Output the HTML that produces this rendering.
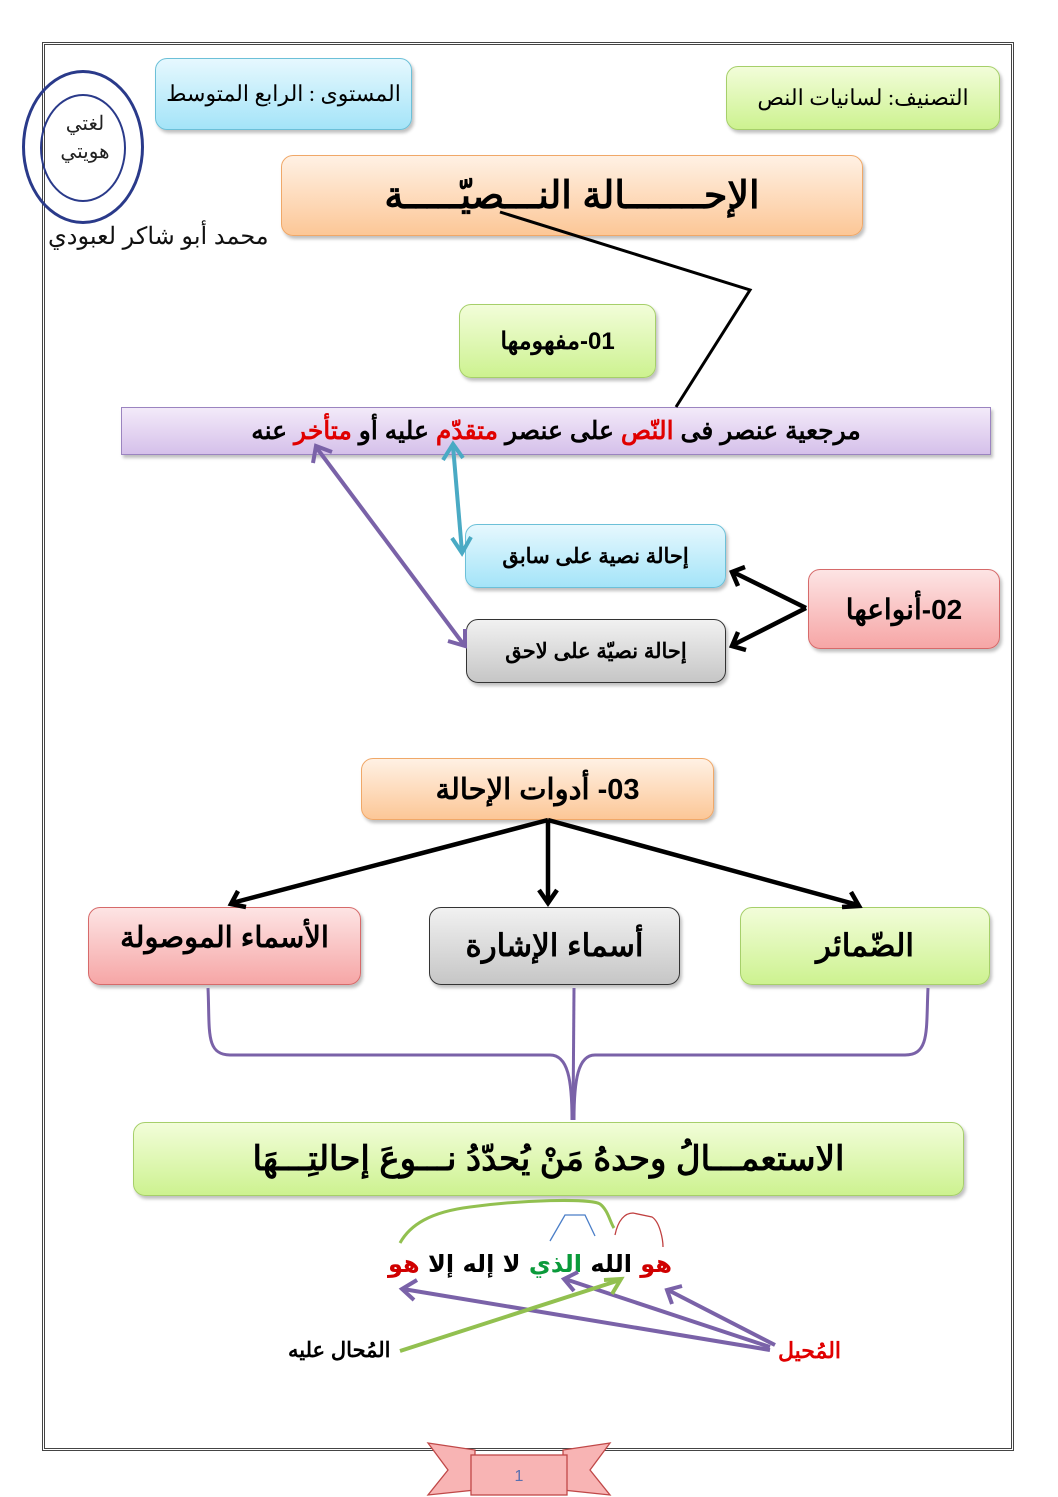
<!DOCTYPE html>
<html><head><meta charset="utf-8">
<style>
body{margin:0;width:1058px;height:1497px;background:#fff;position:relative;overflow:hidden;font-family:"Liberation Sans","Noto Sans CJK SC",sans-serif;}
.b{position:absolute;box-sizing:border-box;border-radius:12px;display:flex;align-items:center;justify-content:center;font-weight:bold;color:#000;direction:rtl;box-shadow:2px 3px 3px rgba(0,0,0,0.25);white-space:nowrap}
.green{background:linear-gradient(#f2fdd9,#cdf290);border:1.5px solid #a6cf6a}
.blue{background:linear-gradient(#e6f8fe,#a4e4f8);border:1.5px solid #6cc0d8}
.orange{background:linear-gradient(#fff1e4,#fcc797);border:1.5px solid #f0a868}
.red{background:linear-gradient(#fde4e4,#f6a6a6);border:1.5px solid #d66a6a}
.gray{background:linear-gradient(#f1f1f1,#c6c6c6);border:1.5px solid #333}
.purple{background:linear-gradient(#f3eaf9,#d5c0ea);border:1.5px solid #9b84c0;border-radius:0}
.t{position:absolute;font-weight:bold;direction:rtl;white-space:nowrap}
.r{color:#e00000}
</style></head><body>
<div style="position:absolute;left:42px;top:42px;width:972px;height:1409px;border:3px double #444;box-sizing:border-box"></div>

<div class="b blue" style="left:155px;top:58px;width:257px;height:72px;font-size:22px;font-weight:normal;font-family:'Liberation Serif',serif">المستوى : الرابع المتوسط</div>
<div class="b green" style="left:726px;top:66px;width:274px;height:64px;font-size:22px;font-weight:normal;font-family:'Liberation Serif',serif">التصنيف: لسانيات النص</div>
<div class="b orange" style="left:281px;top:155px;width:582px;height:81px;font-size:38px;font-weight:bold">الإحـــــــالة النـــصيّـــــة</div>

<!-- stamp -->
<div style="position:absolute;left:22px;top:70px;width:122px;height:154px;border:3px solid #2a3a8a;border-radius:50%;box-sizing:border-box"></div>
<div style="position:absolute;left:40px;top:94px;width:86px;height:108px;border:2px solid #2a3a8a;border-radius:50%;box-sizing:border-box"></div>
<div class="t" style="left:50px;top:110px;font-size:20px;color:#222;line-height:28px;text-align:center;width:70px;font-weight:normal">لغتي<br>هويتي</div>
<div class="t" style="left:48px;top:222px;font-size:24px;color:#111;font-weight:normal">محمد أبو شاكر لعبودي</div>

<div class="b green" style="left:459px;top:304px;width:197px;height:74px;font-size:24px">01-مفهومها</div>
<div class="b purple" style="left:121px;top:407px;width:870px;height:48px;font-size:25px">مرجعية عنصر فى&nbsp;<span class="r">النّص</span>&nbsp;على عنصر&nbsp;<span class="r">متقدّم</span>&nbsp;عليه أو&nbsp;<span class="r">متأخر</span>&nbsp;عنه</div>

<div class="b blue" style="left:465px;top:524px;width:261px;height:64px;font-size:21px">إحالة نصية على سابق</div>
<div class="b gray" style="left:466px;top:619px;width:260px;height:64px;font-size:21px">إحالة نصيّة على لاحق</div>
<div class="b red" style="left:808px;top:569px;width:192px;height:80px;font-size:28px">02-أنواعها</div>

<div class="b orange" style="left:361px;top:758px;width:353px;height:62px;font-size:29px">03- أدوات الإحالة</div>
<div class="b red" style="left:88px;top:907px;width:273px;height:78px;font-size:29px;align-items:flex-start;padding-top:12px">الأسماء الموصولة</div>
<div class="b gray" style="left:429px;top:907px;width:251px;height:78px;font-size:31px">أسماء الإشارة</div>
<div class="b green" style="left:740px;top:907px;width:250px;height:78px;font-size:31px">الضّمائر</div>
<div class="b green" style="left:133px;top:1122px;width:831px;height:74px;font-size:34px">الاستعمـــالُ وحدهُ مَنْ يُحدّدُ نـــوعَ إحالتِـــهَا</div>

<div class="t" style="left:388px;top:1250px;font-size:24px;font-family:'DejaVu Sans',serif"><span style="color:#d00000">هو</span> الله <span style="color:#0a9a3a">الذي</span> لا إله إلا <span style="color:#d00000">هو</span></div>
<div class="t" style="left:288px;top:1338px;font-size:21px">المُحال عليه</div>
<div class="t" style="left:778px;top:1338px;font-size:22px;color:#e00000">المُحيل</div>

<svg width="1058" height="1497" style="position:absolute;left:0;top:0">
<polyline points="500,212 750,290 676,407" fill="none" stroke="#000" stroke-width="3"/>
<g stroke="#4aaac4" stroke-width="4" fill="none">
<line x1="453" y1="446" x2="462" y2="552"/>
<polyline points="443,460 453,444 463,458"/><polyline points="452,538 462,553 471,537"/>
</g>
<g stroke="#7a62a8" stroke-width="4" fill="none">
<line x1="316" y1="447" x2="464" y2="645"/>
<polyline points="313,463 316,446 332,452"/><polyline points="448,641 465,646 465,629"/>
</g>
<g stroke="#000" stroke-width="4.5" fill="none">
<polyline points="806,608 733,572"/><polyline points="806,608 733,645"/>
<polyline points="745,567 732,572 738,586"/><polyline points="738,632 732,646 746,650"/>
<line x1="548" y1="820" x2="232" y2="903"/><line x1="548" y1="820" x2="548" y2="902"/><line x1="548" y1="820" x2="858" y2="905"/>
<polyline points="238,891 231,904 246,907"/><polyline points="539,890 548,903 557,890"/><polyline points="842,907 859,906 851,892"/>
</g>
<g stroke="#7a62a8" stroke-width="3" fill="none">
<path d="M208,988 C210,1030 205,1055 230,1055 L550,1055 C568,1055 572,1080 572,1120"/>
<path d="M928,988 C926,1030 930,1055 905,1055 L595,1055 C578,1055 574,1080 574,1120"/>
<line x1="574" y1="988" x2="573" y2="1120"/>
</g>
<path d="M400,1243 C410,1225 430,1212 470,1207 C520,1200 590,1198 600,1204 C608,1210 610,1222 614,1228" fill="none" stroke="#92c050" stroke-width="3"/>
<path d="M550,1241 L565,1215 L585,1215 L595,1236" fill="none" stroke="#4a7ec8" stroke-width="1.3"/>
<path d="M615,1235 C618,1220 625,1213 633,1213 L652,1217 C660,1222 663,1240 663,1247" fill="none" stroke="#c04040" stroke-width="1.3"/>
<g stroke="#7a62a8" stroke-width="4" fill="none">
<line x1="770" y1="1350" x2="403" y2="1289"/>
<line x1="770" y1="1347" x2="565" y2="1279"/>
<line x1="775" y1="1345" x2="668" y2="1290"/>
<polyline points="417,1280 402,1289 414,1300"/>
<polyline points="578,1272 564,1279 574,1291"/>
<polyline points="682,1286 667,1290 672,1304"/>
</g>
<g stroke="#92c050" stroke-width="4" fill="none">
<line x1="400" y1="1351" x2="620" y2="1280"/>
<polyline points="604,1280 621,1279 612,1294"/>
</g>
<g fill="#f8b4b4" stroke="#c04848" stroke-width="1.3">
<polygon points="428,1443 475,1450 475,1490 428,1495 448,1470"/>
<polygon points="610,1443 563,1450 563,1490 610,1495 590,1470"/>
<rect x="471" y="1455" width="96" height="40"/>
</g>
<text x="519" y="1481" font-size="16" fill="#5a70b0" text-anchor="middle" font-family="Liberation Sans">1</text>
</svg>
</body></html>
